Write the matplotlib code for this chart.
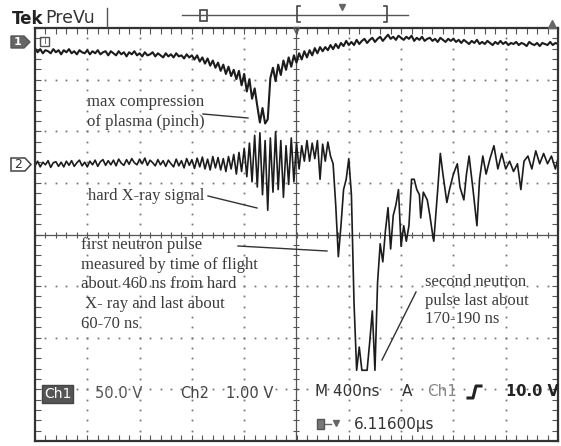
import numpy as np
import matplotlib
matplotlib.use('Agg')
import matplotlib.pyplot as plt
from matplotlib.patches import Rectangle, Polygon

# scope settings
NS_PER_DIV = 400.0
CH1_V_PER_DIV = 50.0
CH2_V_PER_DIV = 1.0
CH1_POS = 3.73   # ground marker position, divisions above centre
CH2_POS = 1.37

# channel 1 (plasma voltage), time in ns from left edge, volts
ch1_t = [0, 20, 40, 60, 80, 100, 120, 140, 160, 180,
         200, 220, 240, 260, 280, 300, 320, 340, 360, 380,
         400, 420, 440, 460, 480, 500, 520, 540, 560, 580,
         600, 620, 640, 660, 680, 700, 720, 740, 760, 780,
         800, 820, 840, 860, 880, 900, 920, 940, 960, 980,
         1000, 1020, 1040, 1060, 1080, 1100, 1120, 1140, 1160, 1180, 1200,
         1220, 1240, 1260, 1280, 1300, 1320, 1340, 1360, 1380, 1400,
         1420, 1440, 1460, 1480, 1500, 1520, 1540, 1560, 1580, 1600,
         1620, 1640, 1660, 1680, 1700, 1720, 1740, 1760, 1780, 1800,
         1820, 1840, 1860, 1880, 1900, 1920, 1940, 1960, 1980, 2000,
         2020, 2040, 2060, 2080, 2100, 2120, 2140, 2160, 2180, 2200,
         2220, 2240, 2260, 2280, 2300, 2320, 2340, 2360, 2380, 2400,
         2420, 2440, 2460, 2480, 2500, 2520, 2540, 2560, 2580, 2600,
         2620, 2640, 2660, 2680, 2700, 2720, 2740, 2760, 2780, 2800,
         2820, 2840, 2860, 2880, 2900, 2920, 2940, 2960, 2980, 3000,
         3020, 3040, 3060, 3080, 3100, 3120, 3140, 3160, 3180, 3200,
         3220, 3240, 3260, 3280, 3300, 3320, 3340, 3360, 3380, 3400,
         3420, 3440, 3460, 3480, 3500, 3520, 3540, 3560, 3580, 3600,
         3620, 3640, 3660, 3680, 3700, 3720, 3740, 3760, 3780, 3800,
         3820, 3840, 3860, 3880, 3900, 3920, 3940, 3960, 3980, 4000]
ch1_v = [-6, -10, -7, -11, -8, -9, -11, -7, -10, -8,
         -12, -8, -10, -7, -11, -9, -12, -8, -10, -11,
         -8, -12, -9, -11, -8, -12, -10, -9, -13, -9,
         -11, -13, -9, -12, -10, -14, -10, -12, -9, -13,
         -11, -14, -10, -13, -12, -10, -14, -11, -13, -15,
         -11, -14, -12, -15, -11, -14, -13, -16, -12, -15, -13,
         -17, -13, -19, -15, -21, -16, -23, -18, -25, -20,
         -28, -22, -31, -24, -33, -27, -36, -28, -42, -31,
         -48, -36, -55, -45, -62, -78, -64, -79, -75, -35,
         -25, -38, -22, -32, -18, -27, -15, -24, -13, -20,
         -11, -17, -9, -15, -8, -13, -6, -11, -5, -9,
         -5, -8, -3, -7, -2, -6, -1, -4, 1, -3,
         0, -3, 2, -2, 1, 3, -1, 2, 4, 0,
         3, 5, 1, 4, 7, 3, 5, 2, 6, 4,
         2, 5, 3, 6, 1, 4, 2, 5, 1, 3,
         4, 1, 3, 0, 4, 2, 0, 3, 1, 3,
         0, 2, -1, 2, 0, -2, 1, -1, 2, -2,
         0, -2, 1, -1, -3, 0, -2, 1, -2, 0,
         -3, -1, -2, 0, -3, -1, -2, -4, 0, -2,
         -3, -1, -4, -1, -2, -3, 0, -3, -1, -2]

# channel 2 (neutron / x-ray detector)
ch2_t = [0, 20, 40, 60, 80, 100, 120, 140, 160, 180,
         200, 220, 240, 260, 280, 300, 320, 340, 360, 380,
         400, 420, 440, 460, 480, 500, 520, 540, 560, 580,
         600, 620, 640, 660, 680, 700, 720, 740, 760, 780,
         800, 820, 840, 860, 880, 900, 920, 940, 960, 980,
         1000, 1020, 1040, 1060, 1080, 1100, 1120, 1140, 1160, 1180,
         1200, 1220, 1240, 1260, 1280, 1300, 1320, 1340, 1360, 1380, 1400,
         1420, 1440, 1460, 1480, 1500, 1520, 1540, 1560, 1580, 1600,
         1620, 1640, 1660, 1680, 1700, 1720, 1740, 1760, 1780, 1800,
         1820, 1840, 1860, 1880, 1900, 1920, 1940, 1960, 1980, 2000,
         2020, 2040, 2060, 2080, 2100, 2120, 2140, 2160, 2180, 2200,
         2220, 2240, 2260,
         2280, 2300, 2320, 2340, 2360, 2380, 2400, 2420, 2440, 2460,
         2480, 2500, 2520, 2540, 2560, 2580, 2600, 2620, 2640, 2660,
         2680, 2700, 2720, 2740, 2760, 2780, 2800, 2820, 2840, 2860,
         2880, 2900, 2920, 2940, 2950, 2970, 3000, 3020, 3040, 3050,
         3080, 3100, 3120, 3150, 3170, 3200, 3230, 3250, 3280, 3300,
         3320, 3350, 3380, 3400, 3425, 3450, 3480, 3510, 3540, 3570,
         3600, 3630, 3660, 3690, 3716, 3740, 3770, 3800, 3830, 3860,
         3890, 3920, 3950, 3980, 4000]
ch2_v = [-0.04, 0.05, -0.06, 0.03, -0.02, 0.06, -0.07, 0.02, 0.04, -0.05,
         0.03, -0.06, 0.05, -0.03, 0.06, -0.05, 0.02, 0.07, -0.04, 0.03,
         -0.06, 0.05, -0.02, 0.07, -0.05, 0.04, 0.08, -0.03, 0.06, -0.02,
         0.07, -0.04, 0.09, 0.01, -0.03, 0.08, -0.01, 0.10, 0.02, -0.02,
         0.09, 0.00, 0.11, -0.03, 0.07, 0.02, -0.04, 0.08, -0.02, 0.06,
         -0.05, 0.07, 0.00, -0.06, 0.09, -0.04, 0.06, -0.08, 0.10, -0.03,
         0.08, -0.09, 0.11, -0.06, 0.13, -0.10, 0.09, -0.12, 0.14, -0.08, 0.12,
         -0.12, 0.10, -0.15, 0.14, -0.10, 0.18, -0.20, 0.22, -0.15, 0.30,
         -0.25, 0.40, -0.35, 0.55, -0.45, 0.60, -0.60, 0.45, -0.90, 0.50,
         -0.55, 0.62, -0.50, 0.45, -0.65, 0.35, -0.40, 0.50, -0.35, 0.40,
         -0.10, 0.35, 0.05, 0.45, 0.05, 0.40, 0.10, 0.45, -0.30, 0.38,
         0.05, 0.42, 0.15,
         0.0, -0.8, -1.8, -1.2, -0.5, -0.3, 0.1, -0.6, -2.7, -4.0,
         -3.55, -4.0, -4.0, -4.0, -3.45, -2.85, -4.0, -2.3, -1.55, -1.9,
         -1.3, -0.85, -1.65, -1.0, -0.8, -0.5, -1.6, -1.2, -1.5, -1.2,
         -0.3, -0.3, -0.5, -0.6, -1.05, -0.55, -0.7, -1.0, -1.35, -1.5,
         -0.5, 0.2, -0.2, -0.75, -0.5, -0.2, 0.0, -0.45, -0.7, -0.2,
         0.15, -0.5, -1.2, -0.3, 0.15, -0.2, 0.1, 0.35, -0.1, 0.2,
         -0.1, 0.05, -0.15, 0.0, -0.5, 0.05, 0.15, -0.1, 0.25, 0.0,
         0.2, 0.0, 0.15, -0.1, 0.1]

first_pulse_note = ['first neutron pulse', 'measured by time of flight',
                    'about 460 ns from hard', ' X- ray and last about', '60-70 ns']
second_pulse_note = ['second neutron', 'pulse last about', '170-190 ns']

W, H = 561, 446
GRID = '#555555'
INK = '#1c1c1c'
NOTE = '#3c3c3c'

fig = plt.figure(figsize=(W / 100, H / 100), dpi=100)
fig.patch.set_facecolor('white')

# graticule area in pixels: x 35..558, y 28..441
ax = fig.add_axes([35 / W, 1 - 441 / H, 523 / W, 413 / H])
ax.set_xlim(-5, 5)
ax.set_ylim(-4, 4)
for s in ax.spines.values():
    s.set_color('#333333')
    s.set_linewidth(1.6)
ax.set_xticks(np.arange(-5, 5.01, 0.2))
ax.set_yticks(np.arange(-4, 4.01, 0.2))
ax.tick_params(direction='in', length=4, width=0.8, color=GRID,
               top=True, right=True, labelbottom=False, labelleft=False)

sub_x = np.arange(-5, 5.01, 0.2)
sub_y = np.arange(-4, 4.01, 0.2)
for gx in range(-4, 5):
    if gx != 0:
        ax.plot(np.full_like(sub_y, gx), sub_y, ls='none', marker='s',
                ms=1.3, mew=0, color='#777777')
for gy in range(-3, 4):
    if gy != 0:
        ax.plot(sub_x, np.full_like(sub_x, gy), ls='none', marker='s',
                ms=1.3, mew=0, color='#777777')
ax.axhline(0, color=GRID, lw=0.9)
ax.axvline(0, color=GRID, lw=0.9)
ax.plot(sub_x, np.zeros_like(sub_x), ls='none', marker='|', ms=5, mew=0.8, color=GRID)
ax.plot(np.zeros_like(sub_y), sub_y, ls='none', marker='_', ms=5, mew=0.8, color=GRID)

# traces
x1 = np.array(ch1_t) / NS_PER_DIV - 5
y1 = np.array(ch1_v) / CH1_V_PER_DIV + CH1_POS
x2 = np.array(ch2_t) / NS_PER_DIV - 5
y2 = np.array(ch2_v) / CH2_V_PER_DIV + CH2_POS
ax.plot(x1, y1, color=INK, lw=1.5)
ax.plot(x2, y2, color=INK, lw=1.2)

# overlay in pixel coordinates for the scope readouts and notes
ov = fig.add_axes([0, 0, 1, 1])
ov.set_xlim(0, W)
ov.set_ylim(H, 0)
ov.axis('off')
ov.patch.set_alpha(0)

ov.text(12, 19, 'Tek', fontsize=12, fontweight='bold', color='#222222', va='center')
ov.text(45, 18, 'PreVu', fontsize=12.5, color='#333333', va='center')
ov.plot([107, 107], [8, 27], color='#555555', lw=1)
ov.plot([182, 408], [15, 15], color='#555555', lw=1)
ov.add_patch(Rectangle((200, 10), 7, 11, fill=False, ec='#444444', lw=1.2))
ov.plot([300, 297, 297, 300], [6, 6, 22, 22], color='#444444', lw=1.2)
ov.plot([384, 387, 387, 384], [6, 6, 22, 22], color='#444444', lw=1.2)
ov.plot([342], [7], marker='v', ms=4, color='#666666')
ov.plot([552], [24], marker='^', ms=6, color='#666666')
ov.plot([296], [30], marker='v', ms=5, mfc='none', mec='#555555')

# channel markers
ov.add_patch(Polygon([[11, 36], [24, 36], [30, 42], [24, 48], [11, 48]],
                     closed=True, fc='#666666', ec='#555555'))
ov.text(18, 42, '1', color='white', fontsize=8, ha='center', va='center', fontweight='bold')
ov.add_patch(Rectangle((40, 37), 9, 9, fill=False, ec='#555555', lw=1))
ov.text(44.5, 42, 'T', color='#555555', fontsize=6, ha='center', va='center')
ov.add_patch(Polygon([[11, 158], [25, 158], [31, 164.5], [25, 171], [11, 171]],
                     closed=True, fc='white', ec='#444444', lw=1.1))
ov.text(18, 164.5, '2', color='#333333', fontsize=9, ha='center', va='center')

# annotations
serif = dict(family='Liberation Serif', fontsize=12, color=NOTE, va='center')
ov.text(87, 102, 'max compression', **serif)
ov.text(87, 122, 'of plasma (pinch)', **serif)
ov.plot([203, 248], [114, 118], color='#333333', lw=1)
ov.text(88, 196, 'hard X-ray signal', **serif)
ov.plot([208, 257], [196, 208], color='#333333', lw=1)
for i, line in enumerate(first_pulse_note):
    ov.text(81, 245 + i * 19.7, line, **serif)
ov.plot([238, 327], [246, 251], color='#333333', lw=1)
for i, line in enumerate(second_pulse_note):
    ov.text(425, 282 + i * 18.7, line, **serif)
ov.plot([382, 416], [360, 292], color='#333333', lw=1)

# readouts
sans = dict(family='DejaVu Sans', va='center')
ov.text(44, 394, 'Ch1', fontsize=10, color='white',
        bbox=dict(boxstyle='square,pad=0.15', fc='#555555', ec='#444444'), **sans)
ov.text(95, 394, '50.0 V', fontsize=10.5, color='#555555', **sans)
ov.text(180, 394, 'Ch2', fontsize=10.5, color='#444444', **sans)
ov.text(226, 394, '1.00 V', fontsize=10.5, color='#444444', **sans)
ov.text(315, 392, 'M 400ns', fontsize=11, color='#333333', **sans)
ov.text(402, 392, 'A', fontsize=11, color='#333333', **sans)
ov.text(427, 392, 'Ch1', fontsize=11, color='#888888', **sans)
ov.plot([468, 473, 476, 481], [398, 398, 386, 386], color='#222222', lw=2.2)
ov.text(506, 392, '10.0 V', fontsize=10.5, color='#222222', fontweight='bold', **sans)
ov.add_patch(Rectangle((317, 419), 7, 10, fc='#777777', ec='#555555'))
ov.plot([325, 331], [424, 424], color='#666666', lw=1)
ov.plot([336], [423], marker='v', ms=5, color='#666666')
ov.text(354, 424, '6.11600\u00b5s', fontsize=11, color='#333333', **sans)

fig.savefig('out.png', dpi=100)
